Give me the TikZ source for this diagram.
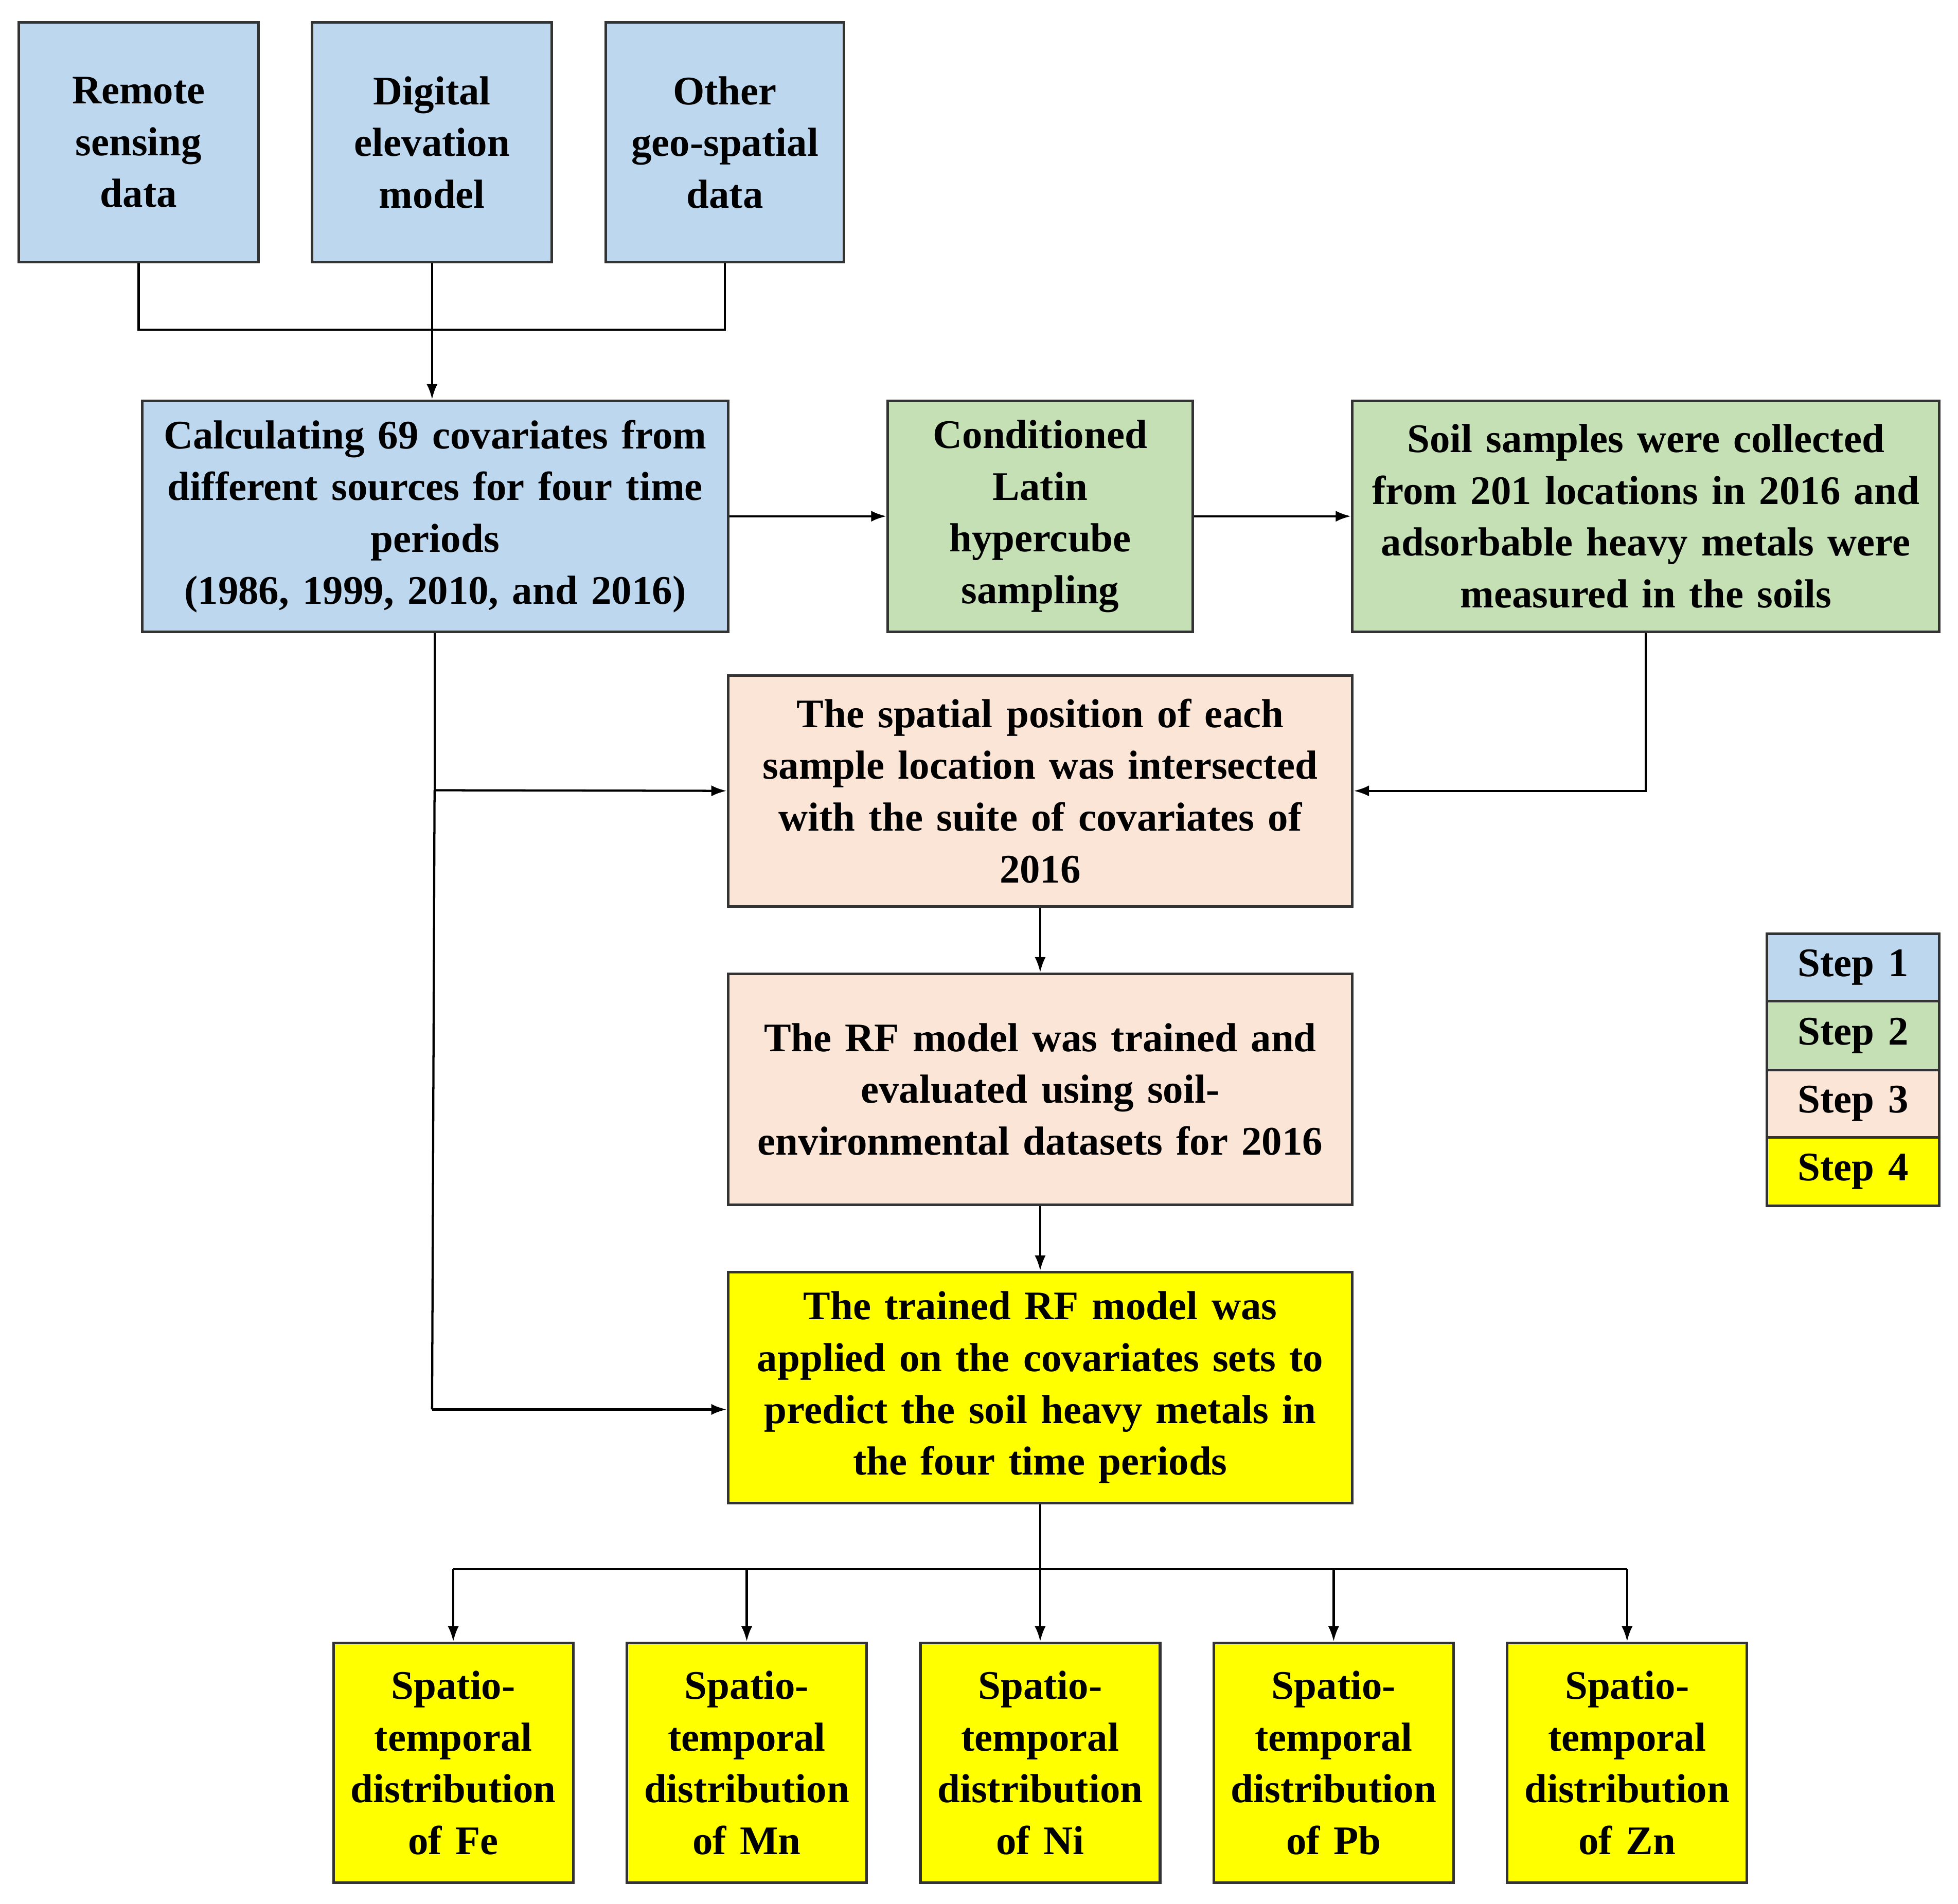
\documentclass[tikz,border=0pt]{standalone}
\usepackage{fontspec}
\setmainfont{Liberation Serif}
\usetikzlibrary{arrows.meta}
\definecolor{cb}{HTML}{BDD7EE}
\definecolor{cg}{HTML}{C5E0B4}
\definecolor{cp}{HTML}{FBE5D6}
\definecolor{cy}{HTML}{FFFF00}
\begin{document}
\begin{tikzpicture}[x=0.02cm,y=-0.02cm,
 box/.style={draw=black!80,line width=1.2pt,align=center,inner sep=0pt,font=\fontsize{18.5}{23.6}\selectfont\bfseries},
 ar/.style={-{Latex[length=7pt,width=5pt]},line width=1pt},
 ln/.style={line width=1pt}]
\useasboundingbox (0,0) rectangle (1568,1525);
\newcommand{\bx}[7]{\node[box,fill=#6,minimum width=(#4-#2)*0.02cm,minimum height=(#5-#3)*0.02cm,text width=(#4-#2)*0.02cm-8pt] (#1) at ({(#2+#4)/2},{(#3+#5)/2}) {#7};}
\bx{a}{15}{18}{207}{210}{cb}{Remote\\sensing\\data}
\bx{b}{250}{18}{442}{210}{cb}{Digital\\elevation\\model}
\bx{c}{485}{18}{676}{210}{cb}{Other\\geo-spatial\\data}
\bx{calc}{114}{321}{583}{506}{cb}{Calculating 69 covariates from\\different sources for four time\\periods\\(1986, 1999, 2010, and 2016)}
\bx{clhs}{711}{321}{955}{506}{cg}{Conditioned\\Latin\\hypercube\\sampling}
\bx{soil}{1083}{321}{1553}{506}{cg}{Soil samples were collected\\from 201 locations in 2016 and\\adsorbable heavy metals were\\measured in the soils}
\bx{sp}{583}{541}{1083}{726}{cp}{The spatial position of each\\sample location was intersected\\with the suite of covariates of\\2016}
\bx{rf}{583}{780}{1083}{965}{cp}{The RF model was trained and\\evaluated using soil-\\environmental datasets for 2016}
\bx{tr}{583}{1019}{1083}{1204}{cy}{The trained RF model was\\applied on the covariates sets to\\predict the soil heavy metals in\\the four time periods}
\bx{fe}{267}{1316}{459}{1508}{cy}{Spatio-\\temporal\\distribution\\of Fe}
\bx{mn}{502}{1316}{694}{1508}{cy}{Spatio-\\temporal\\distribution\\of Mn}
\bx{ni}{737}{1316}{929}{1508}{cy}{Spatio-\\temporal\\distribution\\of Ni}
\bx{pb}{972}{1316}{1164}{1508}{cy}{Spatio-\\temporal\\distribution\\of Pb}
\bx{zn}{1207}{1316}{1399}{1508}{cy}{Spatio-\\temporal\\distribution\\of Zn}
\bx{s1}{1415}{748}{1553}{802}{cb}{Step 1}
\bx{s2}{1415}{802}{1553}{857}{cg}{Step 2}
\bx{s3}{1415}{857}{1553}{911}{cp}{Step 3}
\bx{s4}{1415}{911}{1553}{966}{cy}{Step 4}
\coordinate (j) at (346,264);
\draw[ln] (a.south) |- (j) -| (c.south);
\draw[ln] (b.south) -- (j);
\draw[ar] (j) -- (j|-calc.north);
\draw[ar] (calc) -- (clhs);
\draw[ar] (clhs) -- (soil);
\draw[ar] (soil.south) |- (sp.east);
\coordinate (k) at (348,633);
\draw[ln] (calc.south-|k) -- (k);
\draw[ar] (k) -- (sp.west);
\coordinate (m) at (346,1129);
\draw[ln] (k) -- (m);
\draw[ar] (m) -- (m-|tr.west);
\draw[ar] (sp) -- (rf);
\draw[ar] (rf) -- (tr);
\coordinate (r) at (833,1257);
\draw[ln] (tr.south) -- (r);
\draw[ln] (fe.north|-r) -- (zn.north|-r);
\foreach \n in {fe,mn,ni,pb,zn}{\draw[ar] (\n.north|-r) -- (\n.north);}
\end{tikzpicture}
\end{document}
